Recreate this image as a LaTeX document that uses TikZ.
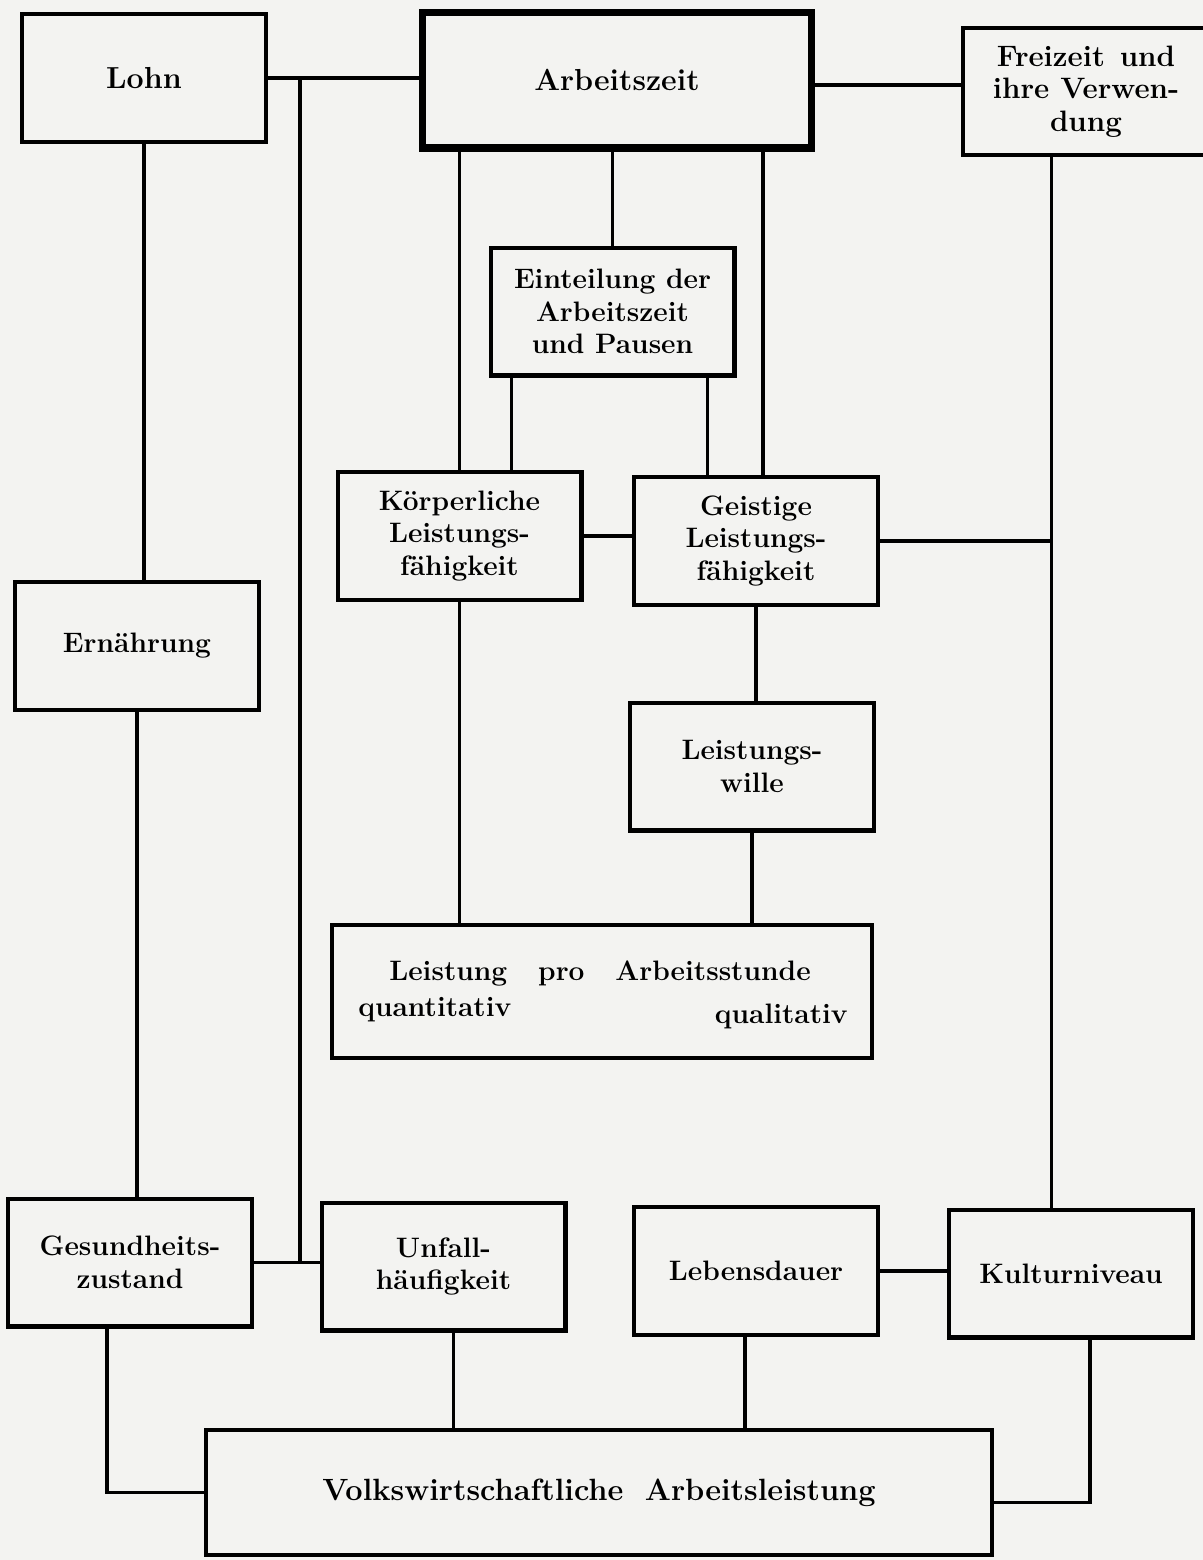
\documentclass[tikz,border=0pt]{standalone}
\usepackage{tikz}
\usetikzlibrary{positioning, calc}
\definecolor{papier}{RGB}{243,243,241}

\begin{document}
\begin{tikzpicture}[x=0.02cm, y=-0.02cm,
    box/.style={draw, rectangle, line width=2.3pt, inner sep=0pt, align=center,
      minimum width=4.88cm, minimum height=2.56cm,
      font=\fontsize{16}{18.5}\selectfont\bfseries},
    big/.style={font=\fontsize{17.3}{18.5}\selectfont\bfseries},
    txt/.style={inner sep=0pt, font=\fontsize{16}{18.5}\selectfont\bfseries},
    link/.style={line width=2.2pt}]
  \fill[papier] (0,0) rectangle (1203,1560);
  \useasboundingbox (0,0) rectangle (1203,1560);

  % Kaesten
  \node[box, big] (lohn) at (144,78) {Lohn};
  \node[box, big, line width=4pt, minimum width=7.8cm, minimum height=2.72cm] (arbeit) at (617,80) {Arbeitszeit};
  \node[box, minimum width=4.94cm, minimum height=2.54cm, font=\fontsize{16.8}{18.6}\selectfont\bfseries] (freizeit) at (1086,91.5) {Freizeit\enspace und\\ihre Verwen-\\dung};
  \node[box] (eint) at (612.5,311.5) {Einteilung der\\Arbeitszeit\\und Pausen};
  \node[box] (koerp) at (459.5,536) {Körperliche\\Leistungs-\\fähigkeit};
  \node[box] (geist) at (756,541) {Geistige\\Leistungs-\\fähigkeit};
  \node[box] (ern) at (137,646) {Ernährung};
  \node[box] (wille) at (752,766.5) {Leistungs-\\wille};
  \node[box, minimum width=10.8cm, minimum height=2.66cm] (leist) at (602,991.5) {};
  \node[txt] (leisttitel) at (600,973) {Leistung\hspace{1.1em}pro\hspace{1.1em}Arbeitsstunde};
  \node[txt, anchor=west] (quant) at (358,1010) {quantitativ};
  \node[txt, anchor=east] (qual) at (848,1016) {qualitativ};
  \node[box] (gesund) at (130,1262.5) {Gesundheits-\\zustand};
  \node[box] (unfall) at (443.5,1266.5) {Unfall-\\häufigkeit};
  \node[box] (leben) at (756,1271) {Lebensdauer};
  \node[box] (kultur) at (1071,1273.5) {Kulturniveau};
  \node[box, minimum width=15.72cm, minimum height=2.5cm, font=\fontsize{17.5}{20}\selectfont\bfseries] (volk) at (599,1492.5) {Volkswirtschaftliche\hspace{0.7em}Arbeitsleistung};

  % Hilfspunkte
  \coordinate (lohnab) at ($(lohn.east)+(32,0)$);
  \coordinate (freiab) at ($(freizeit.south west)+(91,0)$);
  \coordinate (ageist) at ($(geist.north)+(7,0)$);
  \coordinate (ekoerp) at ($(eint.south west)+(23,0)$);
  \coordinate (egeist) at ($(eint.south east)+(-29,0)$);
  \coordinate (gesab) at ($(gesund.south)+(-23,0)$);
  \coordinate (unfab) at ($(unfall.south)+(10,0)$);
  \coordinate (lebab) at ($(leben.south)+(-11,0)$);
  \coordinate (kulab) at ($(kultur.south)+(19,0)$);

  % Verbindungen
  \draw[link] (lohn.east) -- (lohn.east -| arbeit.west);
  \draw[link] (lohnab) -- (lohnab |- gesund.east);
  \draw[link] (gesund.east) -- (gesund.east -| unfall.west);
  \draw[link] (lohn.south) -- (lohn.south |- ern.north);
  \draw[link] (ern.south) -- (ern.south |- gesund.north);
  \draw[link] (gesab) |- (volk.west);
  \draw[link] ($(arbeit.east)+(0,5)$) -- ($(arbeit.east -| freizeit.west)+(0,5)$);
  \draw[link] (freiab) -- (freiab |- kultur.north);
  \draw[link] (geist.east) -- (geist.east -| freiab);
  \draw[link] (koerp.east) -- (koerp.east -| geist.west);
  \draw[link] (koerp.north) -- (koerp.north |- arbeit.south);
  \draw[link] (eint.north) -- (eint.north |- arbeit.south);
  \draw[link] (ageist) -- (ageist |- arbeit.south);
  \draw[link] (ekoerp) -- (ekoerp |- koerp.north);
  \draw[link] (egeist) -- (egeist |- geist.north);
  \draw[link] (koerp.south) -- (koerp.south |- leist.north);
  \draw[link] (geist.south) -- (geist.south |- wille.north);
  \draw[link] (wille.south) -- (wille.south |- leist.north);
  \draw[link] (unfab) -- (unfab |- volk.north);
  \draw[link] (lebab) -- (lebab |- volk.north);
  \draw[link] (leben.east) -- (leben.east -| kultur.west);
  \draw[link] (kulab) |- ($(volk.east)+(0,10)$);
\end{tikzpicture}
\end{document}
